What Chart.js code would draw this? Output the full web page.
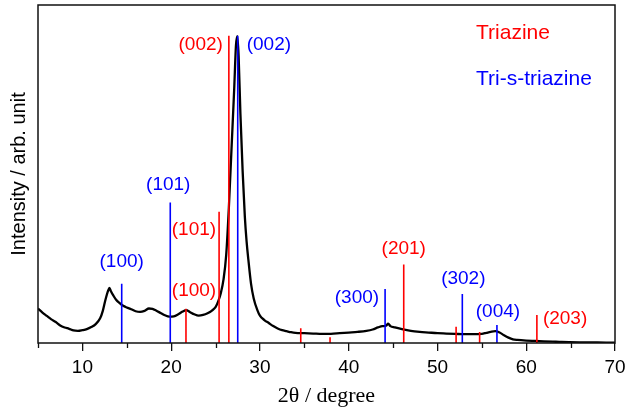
<!DOCTYPE html>
<html>
<head>
<meta charset="utf-8">
<script src="https://cdn.jsdelivr.net/npm/chart.js@4.4.1/dist/chart.umd.min.js"></script>
<style>
  html, body { margin: 0; padding: 0; background: #fff; }
</style>
</head>
<body>
<canvas id="grafico" width="626" height="410"></canvas>
<script>
// XRD pattern (2θ in degree, intensity in arb. unit)
const angulos = [
  5.0, 5.5, 6.0, 6.5, 7.0, 7.5, 8.0, 8.5, 9.0, 9.5,
  10.0, 10.5, 11.0, 11.5, 12.0, 12.3, 12.6, 12.9, 13.05, 13.2,
  13.5, 13.8, 14.2, 14.6, 15.0, 15.5, 16.0, 16.5, 17.0, 17.5,
  17.9, 18.3, 18.8, 19.3, 19.8, 20.3, 20.8, 21.3, 21.7, 22.1,
  22.6, 23.1, 23.6, 24.1, 24.6, 25.0, 25.3, 25.6, 25.9, 26.2,
  26.5, 26.8, 27.1, 27.3, 27.45, 27.6, 27.8, 28.05, 28.3, 28.5,
  28.7, 29.0, 29.3, 29.7, 30.0, 30.5, 31.0, 31.5, 32.0, 32.5,
  33.0, 33.5, 34.0, 35.0, 36.0, 37.0, 38.0, 39.0, 40.0, 41.0,
  42.0, 42.7, 43.3, 43.8, 44.2, 44.45, 44.7, 45.2, 46.0, 47.0,
  48.0, 49.0, 50.0, 51.0, 52.0, 53.0, 54.0, 55.0, 55.5, 56.0,
  56.5, 57.0, 57.5, 58.0, 58.5, 59.0, 60.0, 61.0, 62.0, 63.0,
  64.0, 66.0, 68.0, 70.0
];
const intensidad = [
  10.2, 9.0, 8.0, 7.0, 6.2, 5.2, 4.6, 4.2, 3.7, 3.6,
  3.8, 4.1, 4.7, 5.6, 7.3, 9.5, 12.8, 15.5, 16.3, 15.4,
  14.0, 12.8, 11.8, 11.0, 10.5, 10.0, 9.4, 9.2, 9.5, 10.2,
  10.1, 9.6, 8.9, 8.2, 7.8, 7.9, 8.5, 9.3, 9.7, 9.2,
  8.5, 8.1, 8.3, 8.8, 9.6, 10.6, 12.3, 14.8, 18.8, 26.0,
  40.0, 57.5, 75.0, 88.0, 90.8, 85.0, 68.0, 51.0, 37.4, 30.0,
  24.6, 17.5, 13.2, 9.8, 8.1, 6.8, 5.9, 5.0, 4.3, 3.8,
  3.5, 3.2, 3.0, 2.9, 2.8, 2.7, 2.7, 2.9, 3.1, 3.3,
  3.6, 4.0, 4.6, 5.0, 5.1, 5.7, 5.0, 4.6, 4.1, 3.6,
  3.3, 3.1, 2.9, 2.8, 2.7, 2.6, 2.6, 2.7, 3.0, 3.3,
  3.5, 3.1, 2.3, 1.6, 1.1, 0.9, 0.7, 0.6, 0.5, 0.4,
  0.3, 0.2, 0.15, 0.1
];

// Reference lines: Triazine
const triazinaPos = [21.67, 25.4, 26.5, 34.6, 37.9, 46.2, 52.1, 54.75, 61.2];
const triazinaAlt = [10.1, 38.8, 90.9, 4.4, 1.7, 23.2, 4.8, 3.25, 8.3];
const triazinaHkl = ["(100)", "(101)", "(002)", "", "", "(201)", "", "", "(203)"];

// Reference lines: Tri-s-triazine
const heptazinaPos = [14.43, 19.9, 27.5, 44.1, 52.8, 56.7];
const heptazinaAlt = [17.5, 41.6, 90.9, 16.0, 14.5, 5.3];
const heptazinaHkl = ["(100)", "(101)", "(002)", "(300)", "(302)", "(004)"];

const xTicks = [10, 20, 30, 40, 50, 60, 70];
const xMinorTicks = [5, 15, 25, 35, 45, 55, 65];

const fuente = "'Liberation Sans', Arial, sans-serif";
const ROJO = "#ff0000";
const AZUL = "#0000ff";

// Builds vertical segments separated by gaps
const segmentos = (pos, alt) => {
  const out = [];
  pos.forEach((x, i) => {
    out.push({ x, y: 0 }, { x, y: alt[i] }, { x, y: null });
  });
  return out;
};

// Where each hkl label sits relative to the top of its line
const ubicacion = {
  "r(100)": ["center", 8, -18],
  "r(101)": ["right", -3, 18],
  "r(002)": ["right", -6, 9],
  "r(201)": ["center", 0, -16],
  "r(203)": ["left", 6, 4],
  "b(100)": ["center", 0, -22],
  "b(101)": ["center", -2, -18],
  "b(002)": ["left", 9, 9],
  "b(300)": ["right", -6, 9],
  "b(302)": ["center", 1, -15],
  "b(004)": ["center", 1, -13],
};

const etiquetasPlugin = {
  id: "etiquetas",
  afterDatasetsDraw(chart) {
    const { ctx, scales: { x, y }, chartArea } = chart;
    ctx.save();
    ctx.font = `19px ${fuente}`;
    ctx.textBaseline = "middle";
    const dibujar = (pos, alt, hkl, color, clave) => {
      ctx.fillStyle = color;
      hkl.forEach((t, i) => {
        if (!t) return;
        const [align, dx, dy] = ubicacion[clave + t];
        ctx.textAlign = align;
        ctx.fillText(t, x.getPixelForValue(pos[i]) + dx, y.getPixelForValue(alt[i]) + dy);
      });
    };
    dibujar(triazinaPos, triazinaAlt, triazinaHkl, ROJO, "r");
    dibujar(heptazinaPos, heptazinaAlt, heptazinaHkl, AZUL, "b");

    // legend text
    ctx.font = `21px ${fuente}`;
    ctx.textAlign = "left";
    ctx.fillStyle = ROJO;
    ctx.fillText("Triazine", chartArea.right - 139, chartArea.top + 28);
    ctx.fillStyle = AZUL;
    ctx.fillText("Tri-s-triazine", chartArea.right - 139, chartArea.top + 74);
    ctx.restore();
  },
  afterDraw(chart) {
    const { ctx, scales: { x }, chartArea: a } = chart;
    ctx.save();
    ctx.strokeStyle = "#111";
    ctx.lineWidth = 1.5;
    ctx.strokeRect(a.left, a.top, a.right - a.left, a.bottom - a.top);
    // minor ticks
    ctx.lineWidth = 1.3;
    ctx.beginPath();
    xMinorTicks.forEach((v) => {
      const px = Math.round(x.getPixelForValue(v)) + 0.5;
      ctx.moveTo(px, a.bottom);
      ctx.lineTo(px, a.bottom + 5);
    });
    ctx.stroke();
    ctx.restore();
  },
};

const ctx = document.getElementById("grafico").getContext("2d");

new Chart(ctx, {
  type: "line",
  data: {
    datasets: [
      {
        label: "Tri-s-triazine",
        data: segmentos(heptazinaPos, heptazinaAlt),
        borderColor: AZUL,
        borderWidth: 1.6,
        pointRadius: 0,
        spanGaps: false,
        order: 1,
      },
      {
        label: "Triazine",
        data: segmentos(triazinaPos, triazinaAlt),
        borderColor: ROJO,
        borderWidth: 1.6,
        pointRadius: 0,
        spanGaps: false,
        order: 2,
      },
      {
        label: "XRD",
        data: angulos.map((a, i) => ({ x: a, y: intensidad[i] })),
        borderColor: "#000",
        borderWidth: 2.3,
        pointRadius: 0,
        cubicInterpolationMode: "monotone",
        order: 3,
      },
    ],
  },
  options: {
    responsive: false,
    animation: false,
    layout: { padding: { top: 5, right: 11, left: 0, bottom: 0 } },
    plugins: { legend: { display: false }, tooltip: { enabled: false } },
    scales: {
      x: {
        type: "linear",
        min: 5,
        max: 70,
        afterBuildTicks: (scale) => {
          scale.ticks = xTicks.map((v) => ({ value: v }));
        },
        afterFit: (scale) => {
          scale.height = 67;
          scale.paddingLeft = 0;
          scale.paddingRight = 0;
        },
        ticks: {
          color: "#000",
          font: { family: fuente, size: 19 },
          padding: 5,
          maxRotation: 0,
          autoSkip: false,
        },
        grid: {
          drawOnChartArea: false,
          tickLength: 8,
          color: "#111",
          lineWidth: 1.3,
        },
        border: { display: false },
        title: {
          display: true,
          text: "2θ / degree",
          color: "#000",
          font: { family: "'Liberation Serif', 'Times New Roman', serif", size: 22 },
          padding: { top: 0, bottom: 1 },
        },
      },
      y: {
        min: 0,
        max: 100,
        afterFit: (scale) => {
          scale.width = 38;
        },
        ticks: { display: false },
        grid: { display: false },
        border: { display: false },
        title: {
          display: true,
          text: "Intensity / arb. unit",
          color: "#000",
          font: { family: fuente, size: 20 },
          padding: { top: 7, bottom: 0 },
        },
      },
    },
  },
  plugins: [etiquetasPlugin],
});
</script>
</body>
</html>
